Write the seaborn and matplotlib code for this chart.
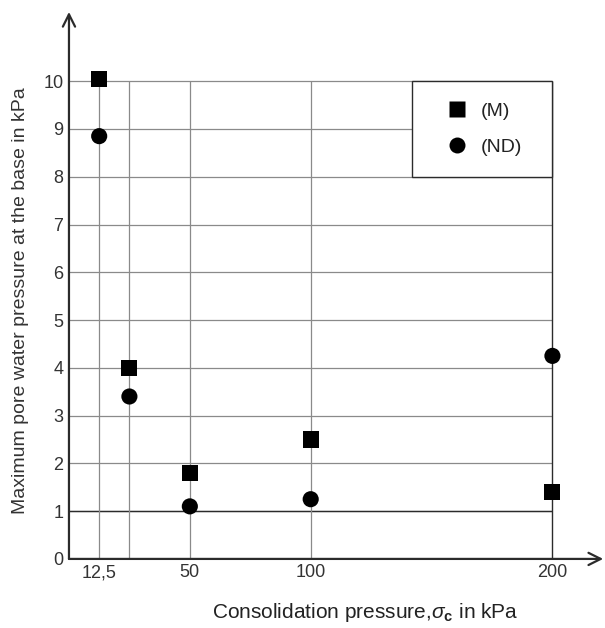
import matplotlib
matplotlib.use("Agg")
import matplotlib.pyplot as plt
import pandas as pd
import seaborn as sns
from matplotlib.patches import Rectangle

# values
pressure = [12.5, 25, 50, 100, 200]
pwp_m = [10.05, 4.0, 1.8, 2.5, 1.4]
pwp_nd = [8.85, 3.4, 1.1, 1.25, 4.25]
series = ['(M)', '(ND)']
xtick_pos = [12.5, 50, 100, 200]
xtick_labels = ['12,5', '50', '100', '200']
ytick_pos = list(range(0, 11))

df = pd.DataFrame({
    'pressure': pressure * 2,
    'pwp': pwp_m + pwp_nd,
    'series': [series[0]] * len(pwp_m) + [series[1]] * len(pwp_nd),
})

sns.set_style("white")
plt.rcParams['font.family'] = ['Liberation Sans', 'DejaVu Sans']
plt.rcParams['mathtext.fontset'] = 'custom'
plt.rcParams['mathtext.rm'] = 'Liberation Sans'
plt.rcParams['mathtext.it'] = 'Liberation Sans:italic'
plt.rcParams['mathtext.bf'] = 'Liberation Sans:bold'

fig = plt.figure(figsize=(6.05, 6.28), dpi=100)
ax = fig.add_axes([0.114, 0.110, 0.883, 0.871])

grid_c = '#8a8a8a'
dark = '#2b2b2b'

# grid only inside 0..200 / 0..10
ax.hlines(ytick_pos[1:], 0, 200, colors=grid_c, lw=0.9, zorder=1)
ax.hlines([1], 0, 200, colors=dark, lw=1.0, zorder=1)
ax.vlines(pressure[:-1], 0, 10, colors=grid_c, lw=0.9, zorder=1)
ax.vlines([200], 0, 10, colors=dark, lw=1.0, zorder=1)

# legend box
ax.add_patch(Rectangle((142, 8), 58, 2, facecolor='white', edgecolor=dark, lw=1.0, zorder=2))

sns.scatterplot(data=df, x='pressure', y='pwp', style='series',
                markers={'(M)': 's', '(ND)': 'o'}, color='black', s=135,
                edgecolor='none', ax=ax, zorder=3, legend=True)

handles, labels = ax.get_legend_handles_labels()
for h in handles:
    h.set_markersize(11.5)
leg = ax.legend(handles, labels, loc='center', bbox_to_anchor=(172, 9),
                bbox_transform=ax.transData, frameon=False, fontsize=14,
                handletextpad=0.7, labelspacing=0.95, handlelength=1.0)
for t in leg.get_texts():
    t.set_color('#222222')

ax.set_xlim(0, 221)
ax.set_ylim(0, 11.45)
ax.set_xticks(xtick_pos)
ax.set_xticklabels(xtick_labels)
ax.set_yticks(ytick_pos)
ax.tick_params(length=0, labelsize=13, labelcolor='#333333', pad=4)

for s in ax.spines.values():
    s.set_visible(False)

# axes with open arrow heads
ax.annotate('', xy=(1.0, 0), xytext=(0, 0), xycoords='axes fraction',
            arrowprops=dict(arrowstyle='->', color=dark, lw=1.6, mutation_scale=22, shrinkA=0, shrinkB=0))
ax.annotate('', xy=(0, 1.0), xytext=(0, 0), xycoords='axes fraction',
            arrowprops=dict(arrowstyle='->', color=dark, lw=1.6, mutation_scale=22, shrinkA=0, shrinkB=0))

ax.set_xlabel(r'Consolidation pressure,$\sigma_\mathbf{c}$ in kPa', fontsize=15, color='#222222')
ax.set_ylabel('Maximum pore water pressure at the base in kPa', fontsize=14, color='#333333')
ax.xaxis.set_label_coords(0.554, -0.077)
ax.yaxis.set_label_coords(-0.074, 0.472)

fig.savefig('out.png', dpi=100)
